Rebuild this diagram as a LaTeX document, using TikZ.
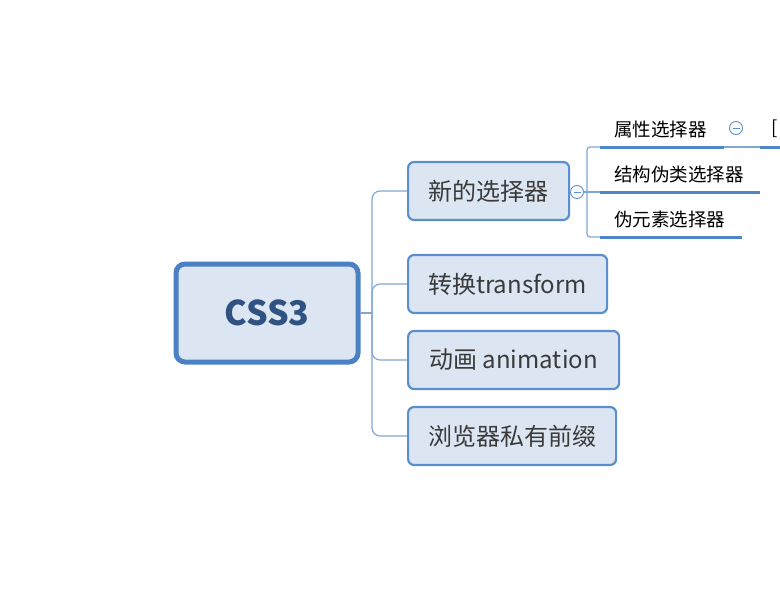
\documentclass[tikz,border=0pt]{standalone}
\usepackage{fontspec}
\setmainfont{Noto Sans CJK SC}
\usepackage{tikz}
\definecolor{boxfill}{HTML}{DCE6F2}
\definecolor{boxline}{HTML}{5B8FCF}
\definecolor{rootline}{HTML}{4A80C4}
\definecolor{linkline}{HTML}{7FA6D6}
\definecolor{rule}{HTML}{4F86C8}
\definecolor{roottext}{HTML}{2F5282}
\definecolor{leaftext}{HTML}{3A3A3A}
\tikzstyle{topic}=[draw, fill=boxfill, rounded corners=6pt, inner sep=0pt, text=leaftext]
\tikzstyle{rtopic}=[topic, draw=rootline, line width=5pt, rounded corners=9pt, minimum width=182pt, minimum height=98pt, text=roottext, font=\fontsize{34}{36}\selectfont\bfseries]
\tikzstyle{ctopic}=[topic, draw=boxline, line width=2.2pt, minimum height=58pt, anchor=west, font=\fontsize{24}{28}\selectfont]
\tikzstyle{leaf}=[anchor=south west, inner sep=0pt, text=black, font=\fontsize{18.5}{22}\selectfont]
\tikzstyle{toggle}=[circle, draw=boxline, fill=white, line width=0.9pt, minimum size=13pt, inner sep=0pt]
\tikzstyle{link}=[linkline, line width=1.2pt]
\tikzstyle{under}=[rule, line width=3pt]

\begin{document}
\begin{tikzpicture}[x=1pt, y=-1pt]
        \useasboundingbox (0,0) rectangle (780,616);
        \node[rtopic]                       (css) at (267,313) {CSS3};
        \node[ctopic, minimum width=161pt]  (sel) at (407,191) {新的选择器};
        \node[ctopic, minimum width=199pt]  (tra) at (407,284) {转换transform};
        \node[ctopic, minimum width=211pt]  (ani) at (407,360) {动画 animation};
        \node[ctopic, minimum width=208pt]  (pre) at (407,436) {浏览器私有前缀};
        \coordinate (hub) at (372,313);
        \draw[link] (css.east) -- (hub);
        \draw[link, rounded corners=8pt] (hub) |- (sel.west);
        \draw[link, rounded corners=8pt] (hub) |- (tra.west);
        \draw[link, rounded corners=8pt] (hub) |- (ani.west);
        \draw[link, rounded corners=8pt] (hub) |- (pre.west);
        % collapse button and sub branches
        \node[toggle] (tog) at (577,192) {};
        \draw[boxline, line width=1pt] ([xshift=-3.5pt]tog.center) -- ([xshift=3.5pt]tog.center);
        \draw[link] (sel.east) -- (tog.west);
        \coordinate (hub2) at (587,192);
        \coordinate (u1a) at (600,147);
        \coordinate (u1b) at (724,147);
        \coordinate (u2a) at (600,192);
        \coordinate (u2b) at (760,192);
        \coordinate (u3a) at (600,237);
        \coordinate (u3b) at (742,237);
        \draw[link] (tog.east) -- (hub2);
        \draw[link, rounded corners=3pt] (hub2) |- (u1a);
        \draw[link] (hub2) -- (u2a);
        \draw[link, rounded corners=3pt] (hub2) |- (u3a);
        \draw[under] (u1a) -- (u1b);
        \draw[under] (u2a) -- (u2b);
        \draw[under] (u3a) -- (u3b);
        \node[leaf] (attr) at (614,138) {属性选择器};
        \node[leaf] (pcls) at (614,183) {结构伪类选择器};
        \node[leaf] (pel)  at (614,228) {伪元素选择器};
        % next level, cut at the edge
        \node[toggle] (tog2) at (736,128) {};
        \draw[boxline, line width=1pt] ([xshift=-3.5pt]tog2.center) -- ([xshift=3.5pt]tog2.center);
        \coordinate (u4a) at (760,147);
        \coordinate (u4b) at (780,147);
        \draw[link] (u1b) -- (u4a);
        \draw[under] (u4a) -- (u4b);
        \node[leaf] (more) at (771,138) {[};
    \end{tikzpicture}
\end{document}
